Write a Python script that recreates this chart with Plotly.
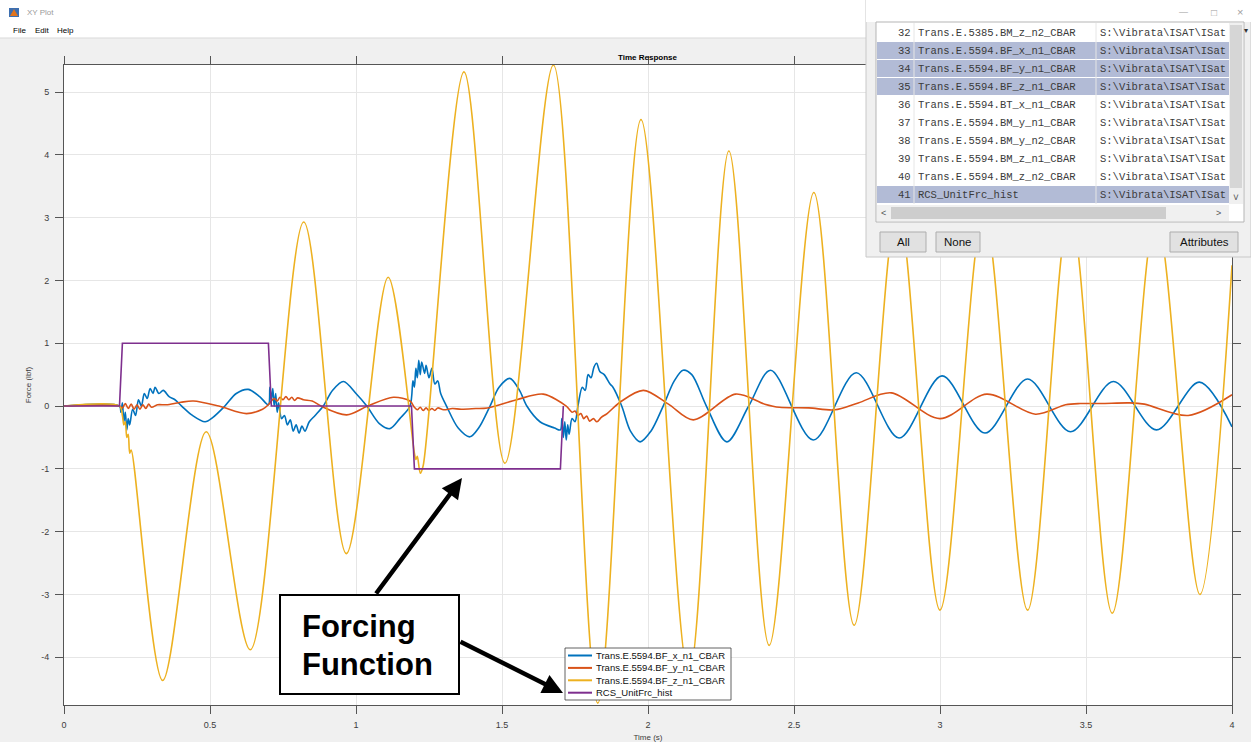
import plotly.graph_objects as go

# ---------------- data ----------------
series_names = ["Trans.E.5594.BF_x_n1_CBAR", "Trans.E.5594.BF_y_n1_CBAR",
                "Trans.E.5594.BF_z_n1_CBAR", "RCS_UnitFrc_hist"]
series_colors = ["#0072BD", "#D95319", "#EDB120", "#7E2F8E"]

t_x = [0, 0.19, 0.195, 0.2, 0.205, 0.21, 0.215, 0.22, 0.225, 0.235, 0.245, 0.255, 0.265, 0.275,
       0.285, 0.295, 0.305, 0.312, 0.325, 0.34, 0.36, 0.38, 0.403, 0.44, 0.483, 0.51, 0.551, 0.59,
       0.631, 0.67, 0.70, 0.705, 0.71, 0.715, 0.72, 0.725, 0.73, 0.735, 0.745, 0.755, 0.765, 0.775,
       0.785, 0.795, 0.805, 0.815, 0.825, 0.84, 0.86, 0.888, 0.92, 0.957, 1.0, 1.037, 1.08, 1.116,
       1.15, 1.185, 1.195, 1.2, 1.205, 1.21, 1.215, 1.22, 1.225, 1.235, 1.24, 1.25, 1.26, 1.27, 1.28,
       1.29, 1.31, 1.35, 1.39, 1.42, 1.459, 1.49, 1.527, 1.56, 1.585, 1.63, 1.68, 1.70, 1.705, 1.71,
       1.715, 1.72, 1.725, 1.73, 1.74, 1.75, 1.76, 1.775, 1.785, 1.795, 1.805, 1.815, 1.824, 1.835,
       1.85, 1.87, 1.88, 1.91, 1.94, 1.973, 2.01, 2.052, 2.09, 2.12, 2.15, 2.2, 2.27, 2.345, 2.42,
       2.566, 2.713, 2.86, 3.007, 3.154, 3.30, 3.447, 3.594, 3.741, 3.888, 4.0]
f_x = [0, 0, -0.1, 0.05, -0.25, -0.1, -0.38, -0.2, -0.3, -0.05, -0.15, 0.1, 0.0, 0.2,
       0.12, 0.28, 0.2, 0.3, 0.2, 0.25, 0.15, 0.1, 0.0, -0.15, -0.25, -0.18, 0.0, 0.2,
       0.265, 0.15, 0.02, 0.3, 0.1, 0.28, 0.0, 0.2, -0.1, 0.05, -0.2, -0.15, -0.3, -0.22,
       -0.4, -0.3, -0.43, -0.32, -0.4, -0.25, -0.15, 0.0, 0.25, 0.39, 0.2, 0.0, -0.28, -0.36,
       -0.2, 0.0, 0.4, 0.3, 0.6, 0.45, 0.73, 0.5, 0.7, 0.52, 0.65, 0.45, 0.6, 0.35, 0.4,
       0.2, 0.0, -0.35, -0.49, -0.35, 0.0, 0.3, 0.44, 0.25, 0.0, -0.25, -0.35, -0.38, -0.2, -0.5,
       -0.25, -0.54, -0.3, -0.45, -0.2, -0.25, 0.0, 0.3, 0.25, 0.5, 0.45, 0.62, 0.68, 0.55,
       0.5, 0.35, 0.3, 0.0, -0.4, -0.57, -0.4, 0.0, 0.4, 0.57, 0.5, 0.0, -0.57, 0.0, 0.57,
       -0.54, 0.53, -0.51, 0.48, -0.43, 0.43, -0.41, 0.39, -0.38, 0.38, -0.33]

t_y = [0, 0.19, 0.2, 0.21, 0.22, 0.23, 0.24, 0.25, 0.26, 0.27, 0.28, 0.29, 0.3, 0.32, 0.35, 0.40,
       0.443, 0.53, 0.625, 0.68, 0.70, 0.71, 0.72, 0.73, 0.74, 0.75, 0.76, 0.77, 0.78, 0.79, 0.80,
       0.82, 0.85, 0.88, 0.968, 1.04, 1.128, 1.185, 1.2, 1.21, 1.22, 1.23, 1.24, 1.25, 1.26, 1.27,
       1.28, 1.3, 1.33, 1.36, 1.41, 1.45, 1.55, 1.641, 1.72, 1.73, 1.74, 1.75, 1.76, 1.77, 1.78,
       1.79, 1.8, 1.813, 1.825, 1.84, 1.86, 1.904, 1.984, 2.07, 2.155, 2.30, 2.40, 2.45, 2.55, 2.64,
       2.72, 2.833, 3.0, 3.16, 3.327, 3.43, 3.48, 3.55, 3.65, 3.70, 3.85, 4.0]
f_y = [0, 0, -0.03, 0.04, -0.04, 0.03, -0.05, 0.02, -0.05, 0.02, -0.04, 0.03, -0.02, 0.02, 0.02, 0.06,
       0.08, 0.0, -0.12, -0.05, 0.02, 0.08, 0.12, 0.08, 0.14, 0.1, 0.15, 0.1, 0.14, 0.09, 0.13,
       0.1, 0.08, 0.0, -0.14, 0.0, 0.14, 0.08, -0.02, -0.06, -0.02, -0.07, -0.03, -0.07, -0.04, -0.07,
       -0.03, -0.06, -0.04, -0.05, -0.04, -0.03, 0.1, 0.19, 0.0, -0.05, -0.1, -0.08, -0.15, -0.12, -0.2,
       -0.16, -0.24, -0.2, -0.25, -0.18, -0.12, 0.06, 0.25, 0.03, -0.22, 0.19, 0.03, -0.02, -0.03, -0.06,
       0.05, 0.21, -0.2, 0.19, -0.13, 0.02, 0.04, 0.04, 0.05, 0.03, -0.15, 0.18]

t_z = [0, 0.19, 0.2, 0.205, 0.21, 0.215, 0.22, 0.225, 0.23, 0.338, 0.487, 0.638, 0.821, 0.967,
       1.11, 1.2, 1.205, 1.21, 1.22, 1.23, 1.37, 1.51, 1.676, 1.828, 1.976, 2.14, 2.277, 2.415,
       2.568, 2.706, 2.855, 3.0, 3.15, 3.30, 3.445, 3.59, 3.74, 3.89, 4.0]
f_z = [0, 0, -0.15, -0.3, -0.25, -0.5, -0.45, -0.75, -0.7, -4.37, -0.41, -3.88, 2.93, -2.35,
       2.05, -0.75, -0.85, -0.8, -1.07, -0.95, 5.32, -0.91, 5.43, -4.73, 4.56, -4.3, 4.06, -3.81,
       3.40, -3.49, 3.2, -3.25, 3.1, -3.25, 3.15, -3.30, 3.05, -3.0, 2.24]

t_rcs = [0, 0.19, 0.2, 0.7, 0.71, 1.19, 1.2, 1.7, 1.71]
f_rcs = [0, 0, 1, 1, 0, 0, -1, -1, 0]

x_ticks = [0, 0.5, 1, 1.5, 2, 2.5, 3, 3.5, 4]
x_tick_text = ["0", "0.5", "1", "1.5", "2", "2.5", "3", "3.5", "4"]
y_ticks = [-4, -3, -2, -1, 0, 1, 2, 3, 4, 5]
y_tick_text = ["-4", "-3", "-2", "-1", "0", "1", "2", "3", "4", "5"]

table_nums = ["32", "33", "34", "35", "36", "37", "38", "39", "40", "41"]
table_names = ["Trans.E.5385.BM_z_n2_CBAR", "Trans.E.5594.BF_x_n1_CBAR", "Trans.E.5594.BF_y_n1_CBAR",
               "Trans.E.5594.BF_z_n1_CBAR", "Trans.E.5594.BT_x_n1_CBAR", "Trans.E.5594.BM_y_n1_CBAR",
               "Trans.E.5594.BM_y_n2_CBAR", "Trans.E.5594.BM_z_n1_CBAR", "Trans.E.5594.BM_z_n2_CBAR",
               "RCS_UnitFrc_hist"]
table_paths = ["S:\\Vibrata\\ISAT\\ISat"] * 10
table_selected = [False, True, True, True, False, False, False, False, False, True]

# ---------------- geometry helpers (pixel -> paper) ----------------
W, H = 1251, 742
L, R, T, B = 64, 1232, 65, 705


def PX(p):
    return (p - L) / (R - L)


def PY(p):
    return (B - p) / (B - T)


fig = go.Figure()
data = [(t_x, f_x, "spline"), (t_y, f_y, "spline"), (t_z, f_z, "spline"), (t_rcs, f_rcs, "linear")]
for (tt, ff, shp), nm, col in zip(data, series_names, series_colors):
    fig.add_trace(go.Scatter(x=tt, y=ff, mode="lines", name=nm, showlegend=False,
                             line=dict(color=col, width=1.6, shape=shp, smoothing=0.9)))

shapes = []
ann = []


def rect(x0, y0, x1, y1, fill, line="rgba(0,0,0,0)", lw=0):
    shapes.append(dict(type="rect", xref="paper", yref="paper", x0=PX(x0), x1=PX(x1),
                       y0=PY(y1), y1=PY(y0), fillcolor=fill, line=dict(color=line, width=lw),
                       layer="above"))


def line(x0, y0, x1, y1, col, lw=1):
    shapes.append(dict(type="line", xref="paper", yref="paper", x0=PX(x0), x1=PX(x1),
                       y0=PY(y0), y1=PY(y1), line=dict(color=col, width=lw), layer="above"))


def text(x, y, s, size=9, color="#000", family="Liberation Sans, Arial", xanchor="left",
         bold=False):
    if bold:
        s = "<b>" + s + "</b>"
    ann.append(dict(xref="paper", yref="paper", x=PX(x), y=PY(y), text=s, showarrow=False,
                    xanchor=xanchor, yanchor="middle", font=dict(size=size, color=color, family=family)))


# window chrome
rect(0, 0, W, 38, "#ffffff")
line(0, 38, W, 38, "#d9d9d9")
rect(9, 8, 19, 17, "#3d6fb0")
shapes.append(dict(type="path", xref="paper", yref="paper", layer="above",
                   path=f"M {PX(10)} {PY(16)} L {PX(14)} {PY(9)} L {PX(18)} {PY(16)} Z",
                   fillcolor="#e2741d", line=dict(width=0)))
text(25, 13, "XY Plot", size=8, color="#9a9a9a")
text(11, 30, "File", size=8)
text(33, 30, "Edit", size=8)
text(55, 30, "Help", size=8)

# title
text((L + R) / 2, 57, "Time Response", size=8, xanchor="center", bold=True)

# manual legend
rect(565, 648, 731, 700, "#ffffff", "#3a3a3a", 0.8)
for i, (nm, col) in enumerate(zip(series_names, series_colors)):
    yy = 655.5 + i * 12.4
    line(568, yy, 592, yy, col, 2)
    text(594, yy, nm, size=9.5, color="#111")

# Forcing function callout
rect(280, 595, 459, 694, "#ffffff", "#000000", 2)
text(300, 626, "Forcing", size=31, bold=True)
text(300, 664, "Function", size=31, bold=True)
ann.append(dict(xref="paper", yref="paper", x=PX(462), y=PY(478), ax=-87, ay=117, text="",
                showarrow=True, arrowhead=2, arrowsize=0.9, arrowwidth=4.5, arrowcolor="#000"))
ann.append(dict(xref="paper", yref="paper", x=PX(563), y=PY(693), ax=-104, ay=-52, text="",
                showarrow=True, arrowhead=2, arrowsize=0.9, arrowwidth=4.5, arrowcolor="#000"))

# data-selection panel (overlaid window)
rect(866, 0, W, 257, "#f0f0f0", "#c8c8c8", 1)
rect(866, 0, W, 22, "#ffffff")
text(1183, 12, "\u2014", size=9, color="#a0a0a0", xanchor="center")
text(1214, 12, "\u25a1", size=10, color="#a0a0a0", xanchor="center")
text(1240, 12, "\u00d7", size=11, color="#a0a0a0", xanchor="center")
rect(876, 22, 1244, 222, "#ffffff", "#b5b5b5", 1)
for i, (num, nm, pth, sel) in enumerate(zip(table_nums, table_names, table_paths, table_selected)):
    cy = 33 + 18 * i
    if sel:
        rect(877, cy - 9, 1229, cy + 8, "#b2bbd6")
    text(913, cy, num, size=10.5, color="#3a3a3a", family="Liberation Mono, Courier New", xanchor="right")
    text(916, cy, nm, size=10.5, color="#3a3a3a", family="Liberation Mono, Courier New")
    text(1098, cy, pth, size=10.5, color="#3a3a3a", family="Liberation Mono, Courier New")
line(914, 23, 914, 204, "#e6e6e6")
line(1096, 23, 1096, 204, "#e6e6e6")
rect(1229, 23, 1243, 204, "#f0f0f0")
rect(1230, 25, 1242, 188, "#d6d6d6")
text(1236, 197, "\u02c5", size=10, color="#555", xanchor="center")
rect(877, 205, 1229, 221, "#f0f0f0")
rect(891, 207, 1166, 219, "#cdcdcd")
text(883, 213, "<", size=9, color="#555", xanchor="center")
text(1218, 213, ">", size=9, color="#555", xanchor="center")
for bx0, bx1, lab in [(880, 926, "All"), (936, 980, "None"), (1170, 1238, "Attributes")]:
    rect(bx0, 232, bx1, 252, "#e1e1e1", "#adadad", 1)
    text((bx0 + bx1) / 2, 242, lab, size=11.5, color="#111", xanchor="center")
text(1246, 30, "\u25be", size=8, color="#333", xanchor="center")

axis_common = dict(showgrid=True, gridcolor="#e6e6e6", gridwidth=1, zeroline=False,
                   showline=True, linecolor="#555555", linewidth=1, mirror="ticks",
                   ticks="outside", ticklen=8, tickcolor="#555555", automargin=False,
                   tickfont=dict(size=9, color="#3c3c3c", family="Liberation Sans, Arial"))

fig.update_layout(
    width=W, height=H, autosize=False,
    margin=dict(l=L, r=W - R, t=T, b=H - B, pad=0),
    paper_bgcolor="#f0f0f0", plot_bgcolor="#ffffff",
    showlegend=False,
    xaxis=dict(range=[0, 4], tickvals=x_ticks, ticktext=x_tick_text, ticklabelstandoff=3,
               title=dict(text="Time (s)", standoff=6,
                          font=dict(size=8, color="#3c3c3c", family="Liberation Sans, Arial")),
               **axis_common),
    yaxis=dict(range=[-4.76, 5.43], tickvals=y_ticks, ticktext=y_tick_text, ticklabelstandoff=4,
               title=dict(text="Force (lbf)", standoff=8,
                          font=dict(size=8, color="#3c3c3c", family="Liberation Sans, Arial")),
               **axis_common),
    shapes=shapes, annotations=ann,
)

fig.write_html("out.html", config={"displayModeBar": False},
               post_script="document.body.style.margin='0px';document.body.style.overflow='hidden';")
